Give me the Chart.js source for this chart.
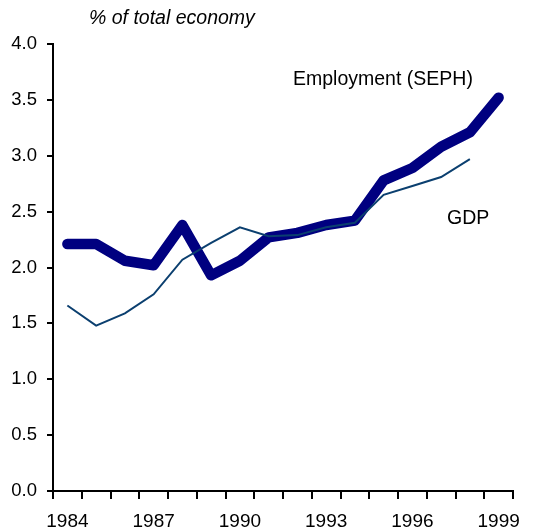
<!DOCTYPE html>
<html>
<head>
<meta charset="utf-8">
<script src="https://cdn.jsdelivr.net/npm/chart.js@4/dist/chart.umd.min.js"></script>
<style>
  html, body { margin: 0; padding: 0; background: #fff; }
  #wrap { position: relative; width: 535px; height: 532px; font-family: "Liberation Sans", Arial, sans-serif; }
  .note { position: absolute; font-size: 19.5px; color: #000; white-space: nowrap; line-height: 1; }
</style>
</head>
<body>
<div id="wrap">
  <canvas id="chart" width="535" height="532"></canvas>
  <div class="note" style="left:89px; top:8px; font-style:italic;">% of total economy</div>
  <div class="note" style="left:293px; top:69px;">Employment (SEPH)</div>
  <div class="note" style="left:447px; top:208px;">GDP</div>
</div>
<script>
// years on the x axis
const years = ['1984', '1985', '1986', '1987', '1988', '1989', '1990', '1991',
               '1992', '1993', '1994', '1995', '1996', '1997', '1998', '1999'];

// share of total economy, %
const employment = [2.21, 2.21, 2.06, 2.02, 2.38, 1.93, 2.06, 2.27,
                    2.31, 2.38, 2.42, 2.78, 2.89, 3.08, 3.21, 3.52];
const gdp = [1.66, 1.48, 1.59, 1.76, 2.07, 2.22, 2.36, 2.28,
             2.29, 2.36, 2.40, 2.65, 2.73, 2.81, 2.97, null];

// only every third year gets a label
const labelEvery = 3;

document.addEventListener('DOMContentLoaded', () => {
  let ctx = document.getElementById('chart').getContext('2d');
  new Chart(ctx, {
    type: 'line',
    data: {
      labels: years,
      datasets: [
        {
          label: 'GDP',
          data: gdp,
          borderColor: '#0b3f6f',
          borderWidth: 2,
          pointRadius: 0,
          tension: 0,
          fill: false
        },
        {
          label: 'Employment (SEPH)',
          data: employment,
          borderColor: '#000080',
          borderWidth: 10.5,
          borderCapStyle: 'round',
          borderJoinStyle: 'round',
          pointRadius: 0,
          tension: 0,
          fill: false
        }
      ]
    },
    options: {
      responsive: false,
      animation: false,
      layout: { padding: { top: 44, right: 22, left: 0, bottom: 0 } },
      plugins: {
        legend: { display: false },
        tooltip: { enabled: false }
      },
      scales: {
        x: {
          type: 'category',
          offset: true,
          border: { display: true, color: '#000', width: 2 },
          grid: {
            offset: true,
            drawOnChartArea: false,
            drawTicks: true,
            tickLength: 8,
            color: '#000',
            lineWidth: 2
          },
          ticks: {
            autoSkip: false,
            maxRotation: 0,
            padding: 11,
            color: '#000',
            font: { family: 'Liberation Sans, Arial, sans-serif', size: 19 },
            callback: function(value, index) {
              return index % labelEvery === 0 ? years[index] : '';
            }
          },
          afterFit: function(scale) { scale.height = 41; }
        },
        y: {
          min: 0,
          max: 4,
          border: { display: true, color: '#000', width: 2 },
          grid: {
            drawOnChartArea: false,
            drawTicks: true,
            tickLength: 6,
            color: '#000',
            lineWidth: 2
          },
          ticks: {
            stepSize: 0.5,
            padding: 10,
            color: '#000',
            font: { family: 'Liberation Sans, Arial, sans-serif', size: 18.5 },
            callback: value => value.toFixed(1)
          },
          afterFit: function(scale) { scale.width = 53; }
        }
      }
    }
  });
});
</script>
</body>
</html>
